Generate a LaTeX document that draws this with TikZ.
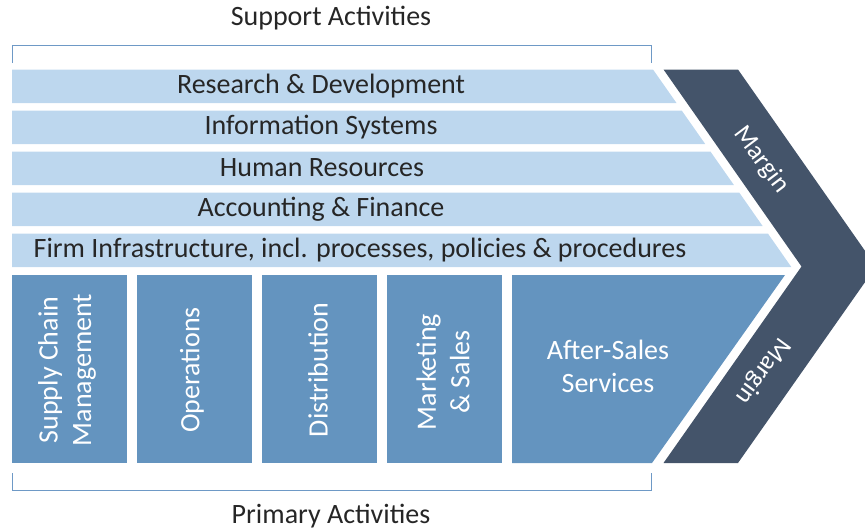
\documentclass[tikz,border=0pt]{standalone}
\usepackage{fontspec}
\setmainfont{Carlito}
\definecolor{lightbar}{HTML}{BDD7EE}
\definecolor{midbox}{HTML}{6494BF}
\definecolor{darkchev}{HTML}{44546A}
\definecolor{bracketc}{HTML}{6E99C6}
\definecolor{txt}{HTML}{262626}
\begin{document}
\begin{tikzpicture}[x=1pt,y=-1pt,
  bartext/.style={text=txt,font=\fontsize{28}{33}\selectfont,inner sep=0pt},
  boxtext/.style={text=white,font=\fontsize{28}{33.4}\selectfont,align=center,inner sep=0pt},
  margtext/.style={text=white,font=\fontsize{26}{30}\selectfont,inner sep=0pt},
  captext/.style={text=txt,font=\fontsize{28}{33}\selectfont,inner sep=0pt},
  brk/.style={draw=bracketc,line width=1.5pt}]
\useasboundingbox (0,0) rectangle (865,531);
\clip (0,0) rectangle (865,531);
% support bars
\fill[lightbar] (12,69.5) -- (653,69.5) -- (676.5,103) -- (12,103) -- cycle;
\fill[lightbar] (12,110.5) -- (681.7,110.5) -- (705.2,144) -- (12,144) -- cycle;
\fill[lightbar] (12,151.5) -- (710.4,151.5) -- (733.9,185) -- (12,185) -- cycle;
\fill[lightbar] (12,192.5) -- (739.2,192.5) -- (762.6,226) -- (12,226) -- cycle;
\fill[lightbar] (12,233.5) -- (767.9,233.5) -- (791.3,267) -- (12,267) -- cycle;
% chevron
\fill[darkchev] (663.5,69.5) -- (738,69.5) -- (876,266.5) -- (738,463) -- (663.5,463) -- (801.5,266.5) -- cycle;
% primary boxes
\fill[midbox] (12,275) rectangle (127,463);
\fill[midbox] (137,275) rectangle (252,463);
\fill[midbox] (262,275) rectangle (377,463);
\fill[midbox] (387,275) rectangle (502,463);
\fill[midbox] (512,275) -- (785,275) -- (652,463) -- (512,463) -- cycle;
% brackets
\draw[brk] (12.5,63) -- (12.5,45.5) -- (651.5,45.5) -- (651.5,63);
\draw[brk] (12.5,473) -- (12.5,490.5) -- (651.5,490.5) -- (651.5,473);
% texts
\node[captext] (sup) at (331,18) {Support Activities};
\node[captext] (pri) at (331,516) {Primary Activities};
\node[bartext] (rd) at (321,86) {Research \& Development};
\node[bartext] (is) at (321,127) {Information Systems};
\node[bartext] (hr) at (322,168) {Human Resources};
\node[bartext] (af) at (321,209) {Accounting \& Finance};
\node[bartext] (fi) at (360,250) {Firm Infrastructure, incl. processes, policies \& procedures};
\node[boxtext,rotate=90] (scm) at (67,370) {Supply Chain\\Management};
\node[boxtext,rotate=90] (op) at (192,370) {Operations};
\node[boxtext,rotate=90] (di) at (318,370) {Distribution};
\node[boxtext,rotate=90] (ms) at (443,372) {Marketing\\\& Sales};
\node[boxtext] (as) at (608,366.5) {After-Sales\\Services};
\node[margtext,rotate=-53] (m1) at (761,160) {Margin};
\node[margtext,rotate=-126] (m2) at (763,371) {Margin};
\end{tikzpicture}
\end{document}
